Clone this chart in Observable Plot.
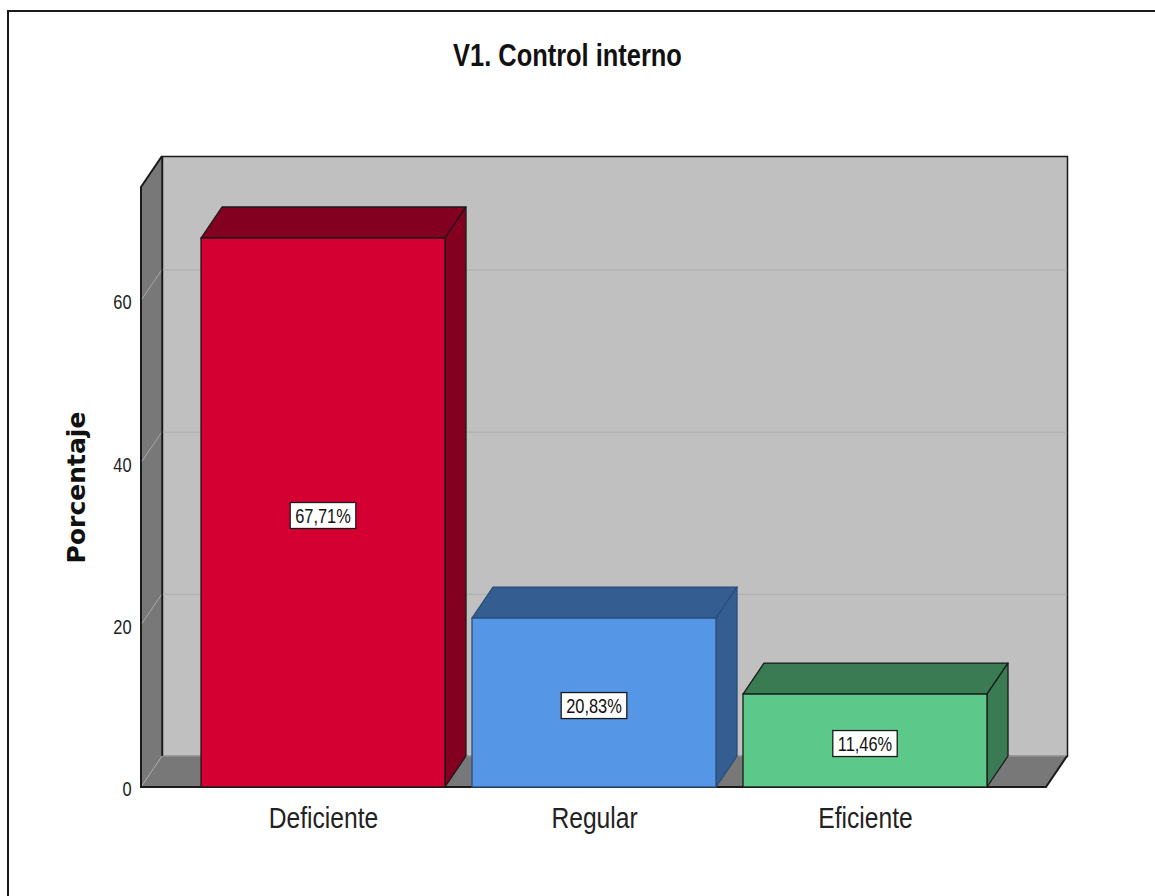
<!DOCTYPE html>
<html><head><meta charset="utf-8">
<script src="https://cdn.jsdelivr.net/npm/d3@7"></script>
<script src="https://cdn.jsdelivr.net/npm/@observablehq/plot@0.6"></script>
<style>
body{margin:0;background:#fff;overflow:hidden;width:1155px;height:896px;position:relative;}
#frame{position:absolute;left:7px;top:10px;width:1200px;height:1000px;border:2px solid #1a1a1a;box-sizing:border-box;}
#title{position:absolute;left:0;width:1135px;top:38px;text-align:center;line-height:30px;}
#title span{display:inline-block;font:bold 31px "Liberation Sans",Arial,sans-serif;color:#111;transform:scaleX(0.82);transform-origin:center;}
#chart{position:absolute;left:0;top:100px;}
</style></head><body>
<div id="frame"></div>
<div id="title"><span>V1. Control interno</span></div>
<div id="chart"></div>
<script>
const categories = ["Deficiente", "Regular", "Eficiente"];
const percentages = [67.71, 20.83, 11.46];
const valueLabels = ["67,71%", "20,83%", "11,46%"];
const yTicks = [0, 20, 40, 60];
const frontColors = ["#d50032", "#5596e6", "#5cc98b"];
const shadeColors = ["#830020", "#345e91", "#3a7b54"];
const edgeColors = ["#1a1a1a", "#2b4d78", "#1a1a1a"];

const rows = categories.map((c, i) => ({
  category: c, value: percentages[i], label: valueLabels[i],
  front: frontColors[i], shade: shadeColors[i], edge: edgeColors[i]
}));

const DX = 21, DY = -31;
const SQUEEZE = 0.82;
const sans = '"Liberation Sans",Arial,sans-serif';
const pts = (a) => a.map(p => p.join(",")).join(" ");

// left wall + floor of the 3D box
function walls(index, {x, y}) {
  const [xl, xr] = x.range();
  const yb = y(0), yt = y(y.domain()[1]);
  const g = d3.create("svg:g");
  g.append("polygon").attr("points", pts([[xl, yb], [xl, yt], [xl + DX, yt + DY], [xl + DX, yb + DY]]))
    .attr("fill", "#787878");
  g.append("polygon").attr("points", pts([[xl, yb], [xr, yb], [xr + DX, yb + DY], [xl + DX, yb + DY]]))
    .attr("fill", "#787878");
  for (const t of yTicks) {
    g.append("line").attr("x1", xl).attr("y1", y(t)).attr("x2", xl + DX).attr("y2", y(t) + DY)
      .attr("stroke", "#a8a8a8").attr("stroke-width", 1);
  }
  g.append("line").attr("x1", xl + DX).attr("y1", yb + DY).attr("x2", xr + DX).attr("y2", yb + DY)
    .attr("stroke", "#a0a0a0").attr("stroke-width", 1);
  g.append("line").attr("x1", xl + DX).attr("y1", yt + DY).attr("x2", xl + DX).attr("y2", yb + DY)
    .attr("stroke", "#1a1a1a").attr("stroke-width", 1.5);
  g.append("path").attr("d", `M${xl + DX},${yt + DY}L${xl},${yt}L${xl},${yb}L${xr},${yb}L${xr + DX},${yb + DY}`)
    .attr("fill", "none").attr("stroke", "#1a1a1a").attr("stroke-width", 2);
  return g.node();
}

// top and side faces of each bar
function barFaces(index, {x, y}) {
  const bw = x.bandwidth();
  const g = d3.create("svg:g");
  for (const r of rows) {
    const x0 = x(r.category), x1 = x0 + bw, yt = y(r.value), yb = y(0);
    g.append("polygon").attr("points", pts([[x0, yt], [x1, yt], [x1 + DX, yt + DY], [x0 + DX, yt + DY]]))
      .attr("fill", r.shade).attr("stroke", r.edge).attr("stroke-width", 1.3).attr("stroke-linejoin", "round");
    g.append("polygon").attr("points", pts([[x1, yt], [x1 + DX, yt + DY], [x1 + DX, yb + DY], [x1, yb]]))
      .attr("fill", r.shade).attr("stroke", r.edge).attr("stroke-width", 1.3).attr("stroke-linejoin", "round");
  }
  return g.node();
}

// white boxed value labels
const ctx = document.createElement("canvas").getContext("2d");
function valueBoxes(index, {x, y}) {
  const bw = x.bandwidth();
  const g = d3.create("svg:g");
  ctx.font = `20px ${sans}`;
  for (const r of rows) {
    const cx = x(r.category) + bw / 2, cy = (y(r.value) + y(0)) / 2 + 3;
    const tw = ctx.measureText(r.label).width * SQUEEZE;
    const w = tw + 10, h = 26;
    g.append("rect").attr("x", cx - w / 2).attr("y", cy - h / 2).attr("width", w).attr("height", h)
      .attr("fill", "white").attr("stroke", "#1a1a1a").attr("stroke-width", 1.3);
    g.append("text").attr("x", cx).attr("y", cy).attr("dy", "0.36em").attr("text-anchor", "middle")
      .attr("font-family", sans).attr("font-size", 20).attr("fill", "#111")
      .attr("textLength", tw).attr("lengthAdjust", "spacingAndGlyphs").text(r.label);
  }
  return g.node();
}

const chart = Plot.plot({
  width: 1155,
  height: 796,
  marginLeft: 141,
  marginRight: 109,
  marginTop: 87,
  marginBottom: 109,
  style: {background: "transparent", fontFamily: sans, overflow: "visible"},
  x: {domain: categories, paddingInner: 0.1, paddingOuter: 0.217, axis: null},
  y: {domain: [0, 74], axis: null},
  marks: [
    Plot.frame({fill: "#c0c0c0", stroke: "#1a1a1a", strokeWidth: 1.5, dx: DX, dy: DY}),
    Plot.ruleY(yTicks.filter(t => t > 0), {stroke: "#acacac", strokeWidth: 1, dx: DX, dy: DY}),
    walls,
    barFaces,
    Plot.barY(rows, {x: "category", y: "value", fill: d => d.front, stroke: d => d.edge, strokeWidth: 1.3}),
    valueBoxes,
    Plot.text(yTicks, {y: d => d, text: d => String(d), frameAnchor: "left", dx: -10, dy: 2, textAnchor: "end", fontSize: 20, fontFamily: sans, fill: "#222"}),
    Plot.text(rows, {x: "category", frameAnchor: "bottom", dy: 31, text: "category", fontSize: 30, fontFamily: sans, fill: "#222", lineAnchor: "middle"}),
    Plot.text(["Porcentaje"], {frameAnchor: "left", dx: -65, rotate: -90, text: d => d, textAnchor: "middle", fontSize: 25, fontWeight: "bold", fontFamily: "DejaVu Sans", fill: "#111", lineAnchor: "middle"})
  ]
});
document.getElementById("chart").appendChild(chart);

// narrow the Arial-like labels horizontally (the reference uses a narrow face)
d3.select(chart).selectAll("text").each(function() {
  if (this.textContent === "Porcentaje" || this.hasAttribute("textLength")) return;
  const w = this.getComputedTextLength();
  if (w > 0) {
    this.setAttribute("textLength", w * SQUEEZE);
    this.setAttribute("lengthAdjust", "spacingAndGlyphs");
  }
});
</script>
</body></html>
